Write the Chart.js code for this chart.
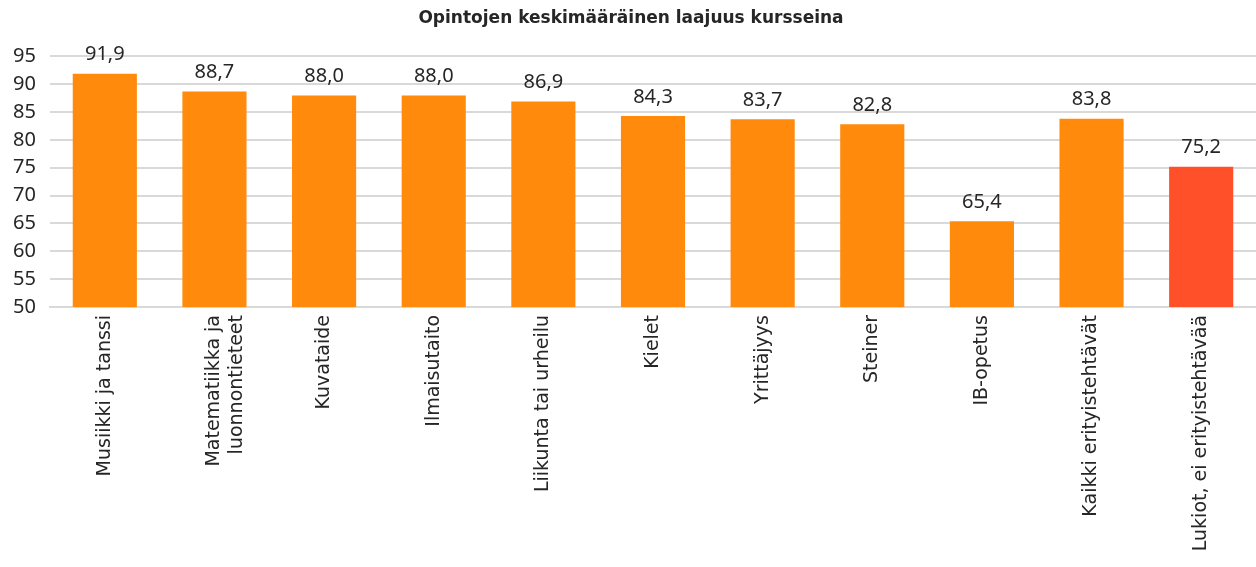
<!DOCTYPE html>
<html>
<head>
<meta charset="utf-8">
<script src="https://cdn.jsdelivr.net/npm/chart.js@4"></script>
<style>
  html, body { margin: 0; padding: 0; background: #fff; }
  #wrap { width: 1256px; height: 567px; }
</style>
</head>
<body>
<div id="wrap"><canvas id="kaavio"></canvas></div>
<script>
const kategoriat = [
    'Musiikki ja tanssi',
    ['Matematiikka ja', 'luonnontieteet'],
    'Kuvataide',
    'Ilmaisutaito',
    'Liikunta tai urheilu',
    'Kielet',
    'Yrittäjyys',
    'Steiner',
    'IB-opetus',
    'Kaikki erityistehtävät',
    'Lukiot, ei erityistehtävää'
];
const laajuus = [91.9, 88.7, 88.0, 88.0, 86.9, 84.3, 83.7, 82.8, 65.4, 83.8, 75.2];
const vaerit = ['#FF8A0C', '#FF8A0C', '#FF8A0C', '#FF8A0C', '#FF8A0C', '#FF8A0C',
    '#FF8A0C', '#FF8A0C', '#FF8A0C', '#FF8A0C', '#FF5029'];
const yTikit = [50, 55, 60, 65, 70, 75, 80, 85, 90, 95];

const fontti = '"Noto Sans", "Open Sans", sans-serif';
const leveaFontti = '"DejaVu Sans", "Noto Sans", sans-serif';

// arvot pylväiden päälle
const arvoLiitin = {
    id: 'arvot',
    afterDatasetsDraw(chart) {
        const ctx = chart.ctx;
        const meta = chart.getDatasetMeta(0);
        ctx.save();
        ctx.font = '20px ' + fontti;
        ctx.fillStyle = '#262626';
        ctx.textAlign = 'center';
        ctx.textBaseline = 'bottom';
        meta.data.forEach((bar, i) => {
            const teksti = laajuus[i].toFixed(1).replace('.', ',');
            ctx.fillText(teksti, bar.x, bar.y - 9);
        });
        ctx.restore();
    }
};

const ctx = document.getElementById('kaavio').getContext('2d');
new Chart(ctx, {
    type: 'bar',
    data: {
        labels: kategoriat,
        datasets: [{
            data: laajuus,
            backgroundColor: vaerit,
            barPercentage: 0.585,
            categoryPercentage: 1.0
        }]
    },
    options: {
        responsive: true,
        maintainAspectRatio: false,
        animation: false,
        layout: { padding: { left: 0, right: -6, top: 0, bottom: 0 } },
        scales: {
            x: {
                grid: { display: false, drawTicks: false },
                border: { color: '#d9d9d9', width: 2 },
                ticks: {
                    color: '#262626',
                    font: { family: leveaFontti, size: 19 },
                    minRotation: 90,
                    maxRotation: 90,
                    autoSkip: false,
                    padding: 8
                },
                afterFit(scale) { scale.height = 260; }
            },
            y: {
                min: 50,
                max: 95,
                afterBuildTicks(scale) {
                    scale.ticks = yTikit.map(v => ({ value: v }));
                },
                grid: { color: '#d9d9d9', lineWidth: 2, drawTicks: false },
                border: { display: false },
                ticks: {
                    color: '#262626',
                    font: { family: fontti, size: 20 },
                    padding: 14
                },
                afterFit(scale) { scale.width = 50; }
            }
        },
        plugins: {
            legend: { display: false },
            tooltip: { enabled: false },
            title: {
                display: true,
                text: 'Opintojen keskimääräinen laajuus kursseina',
                color: '#262626',
                font: { family: leveaFontti, size: 17, weight: 'bold' },
                padding: { top: 8, bottom: 28 }
            }
        }
    },
    plugins: [arvoLiitin]
});
</script>
</body>
</html>
